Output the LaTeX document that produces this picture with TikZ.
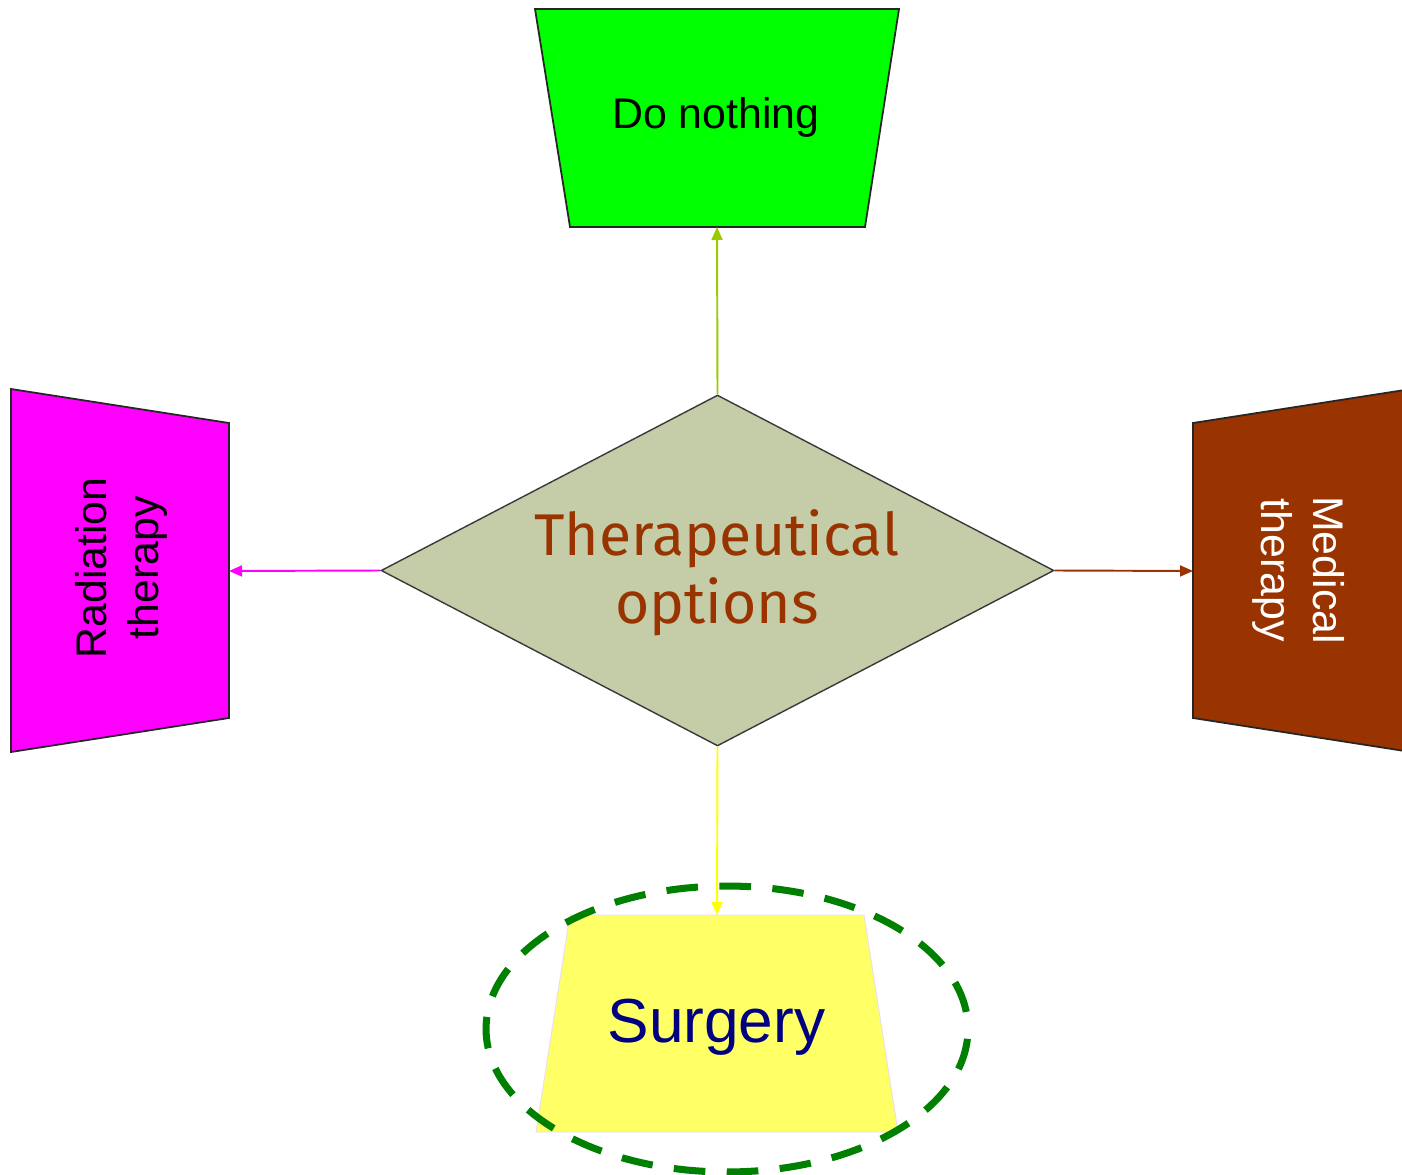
\documentclass[tikz,border=0pt]{standalone}
\usepackage{fontspec}
\setmainfont{Liberation Sans}
\newfontfamily\optfont{Fira Sans}
\usetikzlibrary{arrows.meta,shapes.geometric}
\definecolor{cgreen}{HTML}{00FF00}
\definecolor{cmag}{HTML}{FF00FF}
\definecolor{cbrown}{HTML}{993300}
\definecolor{cyellow}{HTML}{FFFF66}
\definecolor{clav}{HTML}{E8DCF0}
\definecolor{cnavy}{HTML}{000080}
\definecolor{cdia}{HTML}{C5CCA8}
\definecolor{cdgray}{HTML}{3A3A3A}
\definecolor{cyg}{HTML}{99CC00}
\definecolor{cyl}{HTML}{FFFF00}
\definecolor{cdgreen}{HTML}{008000}
\tikzset{
  shapeline/.style={draw=black!85, line width=1pt, line join=miter},
  txt/.style={inner sep=0pt, font={\fontsize{24.4}{30}\selectfont}},
  conn/.style={line width=1.1pt, -{Triangle[length=0.26cm,width=0.22cm]}},
}
\begin{document}
\begin{tikzpicture}[x=0.02cm,y=-0.02cm]
\clip (0,0) rectangle (1402,1175);
\fill[white] (0,0) rectangle (1402,1175);

% Do nothing
\draw[shapeline, fill=cgreen] (535,9) -- (899,9) -- (865,227) -- (570,227) -- cycle;
\node[txt, anchor=base] (nothing) at (716,129) {Do nothing};
\coordinate (nothingb) at (717,227);

% Radiation therapy
\draw[shapeline, fill=cmag] (11,389) -- (229,423) -- (229,718) -- (11,752) -- cycle;
\node[txt, rotate=90, align=center] (rad) at (121.5,568) {Radiation\\therapy};
\coordinate (radr) at (229,571);

% Medical therapy
\draw[shapeline, fill=cbrown] (1193,423) -- (1411,389) -- (1411,752) -- (1193,718) -- cycle;
\node[txt, rotate=-90, align=center, text=white] (med) at (1298.5,570) {Medical\\therapy};
\coordinate (medl) at (1193,571);

% Surgery
\draw[draw=clav, line width=0.5pt, fill=cyellow] (570,915) -- (864,915) -- (898,1132) -- (536,1132) -- cycle;
\node[inner sep=0pt, font={\fontsize{35.4}{42}\selectfont}, text=cnavy, anchor=base] (surg) at (716.5,1042) {Surgery};
\coordinate (surgt) at (717,915);

% Diamond
\node[diamond, draw=cdgray, fill=cdia, line width=0.8pt, minimum width=13.46cm, minimum height=7.02cm, inner sep=0pt] (opt) at (717.5,570.5) {};
\node[inner sep=0pt, align=center, text=cbrown, font={\optfont\fontsize{33.5}{39}\selectfont}] (optt) at (717,573) {Therapeutical\\options};

% connectors
\draw[conn, cyg] (opt.north) -- (nothingb);
\draw[conn, cmag] (opt.west) -- (radr);
\draw[conn, cbrown] (opt.east) -- (medl);
\draw[conn, cyl] (opt.south) -- (surgt);

% highlight ellipse
\node[draw=cdgreen, line width=4pt, dash pattern=on 18pt off 12.2pt, dash phase=20.4pt, ellipse, minimum width=9.64cm, minimum height=5.72cm, inner sep=0pt] (hl) at (727,1029) {};
\end{tikzpicture}
\end{document}
